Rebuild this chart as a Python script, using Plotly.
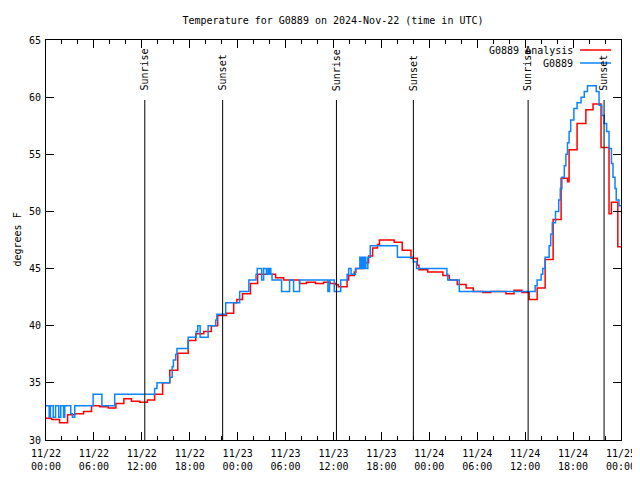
import pandas as pd
import plotly.graph_objects as go

# ---------------- data ----------------
base = pd.Timestamp("2024-11-22 00:00")

# hours after 2024-11-22 00:00 UTC, analysis (red, step)
ana_hours = [0, 0.7, 1.7, 2.7, 3.6, 4.7, 5.7, 6.75, 7.8, 8.75, 9.75, 10.7, 11.75, 12.7,
             13.6, 14.6, 15.5, 16.5, 17.8, 18.75, 19.75, 20.7, 21.5, 22.6, 23.5, 23.9,
             24.6, 25.6, 26.5, 28.75, 29.75, 31.75, 32.6, 33.75, 34.75, 35.6, 36.3, 36.6,
             37.7, 37.9, 38.6, 38.8, 39.7, 40.4, 40.9, 41.5, 41.75, 43.6, 44.6, 45.7,
             46.5, 46.7, 47.8, 49.7, 50.5, 51.5, 52.6, 53.5, 54.7, 55.7, 57.6, 58.6,
             59.6, 60.5, 61.5, 62.5, 63.5, 64.5, 65.3, 65.5, 66.5, 67.6, 68.5, 69.5,
             70.5, 70.8, 71.6, 72.0]
ana_temp = [31.9, 31.8, 31.5, 32.2, 32.3, 32.5, 33.0, 32.9, 32.8, 33.2, 33.6, 33.4, 33.3, 33.5,
            34.0, 35.0, 36.1, 37.6, 38.7, 39.3, 39.5, 40.0, 40.9, 41.1, 42.0, 42.3,
            42.8, 43.7, 44.5, 44.2, 44.0, 43.7, 43.8, 43.7, 43.8, 43.7, 43.6, 43.4,
            44.0, 44.4, 44.7, 45.0, 45.5, 46.1, 46.8, 47.1, 47.5, 47.3, 46.6, 45.9,
            45.3, 44.9, 44.7, 44.4, 44.0, 43.6, 43.3, 43.0, 42.9, 43.0, 42.8, 43.1,
            42.9, 42.3, 43.3, 45.8, 49.3, 52.9, 52.6, 55.4, 57.7, 58.9, 59.4, 55.6,
            49.8, 50.8, 46.9, 46.9]

# observations (blue, step)
obs_hours = [0, 0.4, 0.55, 0.9, 1.2, 1.6, 1.85, 2.2, 2.35, 3.1, 3.3, 3.6, 5.9, 7.0, 8.6,
             13.6, 13.9, 15.5, 15.8, 15.95, 16.25, 16.4, 17.8, 18.8, 19.0, 19.3, 20.3,
             21.25, 21.4, 22.5, 24.25, 25.4, 26.3, 26.45, 27.0, 27.25, 27.6, 27.8, 27.9,
             28.05, 28.15, 28.3, 29.5, 30.5, 31.0, 31.75, 35.3, 35.5, 36.1, 36.9, 37.7,
             37.9, 38.2, 38.75, 39.3, 39.45, 39.6, 39.75, 39.9, 40.05, 40.3, 40.6, 44.0,
             46.0, 46.4, 50.2, 50.3, 51.75, 61.25, 61.5, 62.0, 62.2, 62.5, 63.0, 63.2,
             63.4, 63.8, 64.2, 64.4, 64.6, 64.9, 65.1, 65.3, 65.5, 65.7, 66.1, 66.5,
             67.0, 67.4, 67.8, 68.9, 69.25, 69.6, 69.9, 70.2, 70.5, 70.8, 71.0, 71.25,
             71.4, 71.75, 72.0]
obs_temp = [33.0, 32.0, 33.0, 32.0, 33.0, 32.0, 33.0, 32.0, 33.0, 32.3, 32.0, 33.0, 34.0, 33.0, 34.0,
            34.5, 35.0, 35.5, 36.4, 37.0, 37.5, 38.0, 39.0, 39.5, 40.0, 39.0, 40.0,
            40.5, 41.0, 42.0, 43.0, 44.0, 44.5, 45.0, 44.0, 45.0, 44.5, 45.0, 44.5,
            45.0, 44.5, 44.0, 43.0, 44.0, 43.0, 44.0, 43.0, 44.0, 43.0, 44.0, 44.5,
            45.0, 44.5, 45.0, 46.0, 45.0, 46.0, 45.0, 46.0, 45.0, 46.0, 47.0, 46.0,
            45.6, 45.0, 44.5, 44.0, 43.0, 43.5, 44.0, 44.5, 45.0, 46.0, 47.0, 48.0,
            49.0, 50.0, 51.0, 52.0, 53.0, 54.0, 55.0, 56.0, 57.0, 58.0, 59.0, 59.5,
            60.0, 60.5, 61.0, 60.5, 59.3, 58.4, 57.7, 57.0, 55.5, 54.2, 53.0, 52.0,
            51.0, 50.5, 50.5]

sun_labels = ["Sunrise", "Sunset", "Sunrise", "Sunset", "Sunrise", "Sunset"]
sun_hours = [12.37, 22.12, 36.37, 46.0, 60.37, 69.88]

title_text = "Temperature for G0889 on 2024-Nov-22 (time in UTC)"
ytitle = "degrees F"
name_ana = "G0889 Analysis"
name_obs = "G0889"

# ---------------- figure ----------------
FONT = "DejaVu Sans Mono"
RED = "#ff0000"
BLUE = "#0a84ff"

# page has an 8px body margin, so the figure is placed 8px right/down
L, T, PW, PH = 38, 32, 575, 400
R = 640 - L - PW
B = 480 - T - PH

to_t = lambda hs: [base + pd.Timedelta(hours=h) for h in hs]

fig = go.Figure()
fig.add_trace(go.Scatter(x=to_t(ana_hours), y=ana_temp, mode="lines", name=name_ana,
                         line=dict(color=RED, width=1.5, shape="hv"), showlegend=False))
fig.add_trace(go.Scatter(x=to_t(obs_hours), y=obs_temp, mode="lines", name=name_obs,
                         line=dict(color=BLUE, width=1.5, shape="hv"), showlegend=False))

for lab, h in zip(sun_labels, sun_hours):
    t = base + pd.Timedelta(hours=h)
    fig.add_shape(type="line", xref="x", yref="paper", x0=t, x1=t, y0=0, y1=0.85,
                  line=dict(color="black", width=1))
    fig.add_annotation(x=t, y=0.868, xref="x", yref="paper", text=lab, textangle=-90,
                       showarrow=False, xanchor="center", yanchor="bottom",
                       font=dict(family=FONT, size=10, color="black"))

# gnuplot-style legend: text then line sample
for i, (nm, col) in enumerate([(name_ana, RED), (name_obs, BLUE)]):
    yp = 1 - (10 + 13 * i) / PH
    fig.add_annotation(x=(575 - 46) / PW, y=yp, xref="paper", yref="paper", text=nm,
                       showarrow=False, xanchor="right", yanchor="middle",
                       font=dict(family=FONT, size=10, color="black"))
    fig.add_shape(type="line", xref="paper", yref="paper",
                  x0=(580 - 46) / PW, x1=(611 - 46) / PW, y0=yp, y1=yp,
                  line=dict(color=col, width=1.5))

fig.add_annotation(x=(1 - L) / PW, y=0.5, xref="paper", yref="paper", text=ytitle,
                   textangle=-90, showarrow=False, xanchor="left", yanchor="middle",
                   font=dict(family=FONT, size=10, color="black"))

fig.update_layout(
    width=640, height=480,
    margin=dict(l=L, r=R, t=T, b=B, autoexpand=False),
    paper_bgcolor="white", plot_bgcolor="white",
    font=dict(family=FONT, size=10, color="black"),
    title=dict(text=title_text, x=(333 - 8) / 640, xanchor="center", y=1 - 12 / 480,
               yanchor="middle", font=dict(family=FONT, size=10, color="black")),
)
fig.update_xaxes(
    type="date", range=[base, base + pd.Timedelta(hours=72)], automargin=False,
    dtick=6 * 3600 * 1000, tick0=base, tickformat="%m/%d<br>%H:%M",
    ticks="inside", ticklen=8, tickcolor="black", tickwidth=1,
    minor=dict(dtick=2 * 3600 * 1000, ticks="inside", ticklen=4, tickcolor="black", tickwidth=1),
    showline=True, linecolor="black", linewidth=1, mirror="ticks",
    showgrid=False, zeroline=False, ticklabelstandoff=4,
)
fig.update_yaxes(
    range=[30, 65], dtick=5, tick0=30, automargin=False,
    ticks="inside", ticklen=8, tickcolor="black", tickwidth=1,
    showline=True, linecolor="black", linewidth=1, mirror="ticks",
    showgrid=False, zeroline=False, ticklabelstandoff=2,
)

fig.write_html("out.html")
